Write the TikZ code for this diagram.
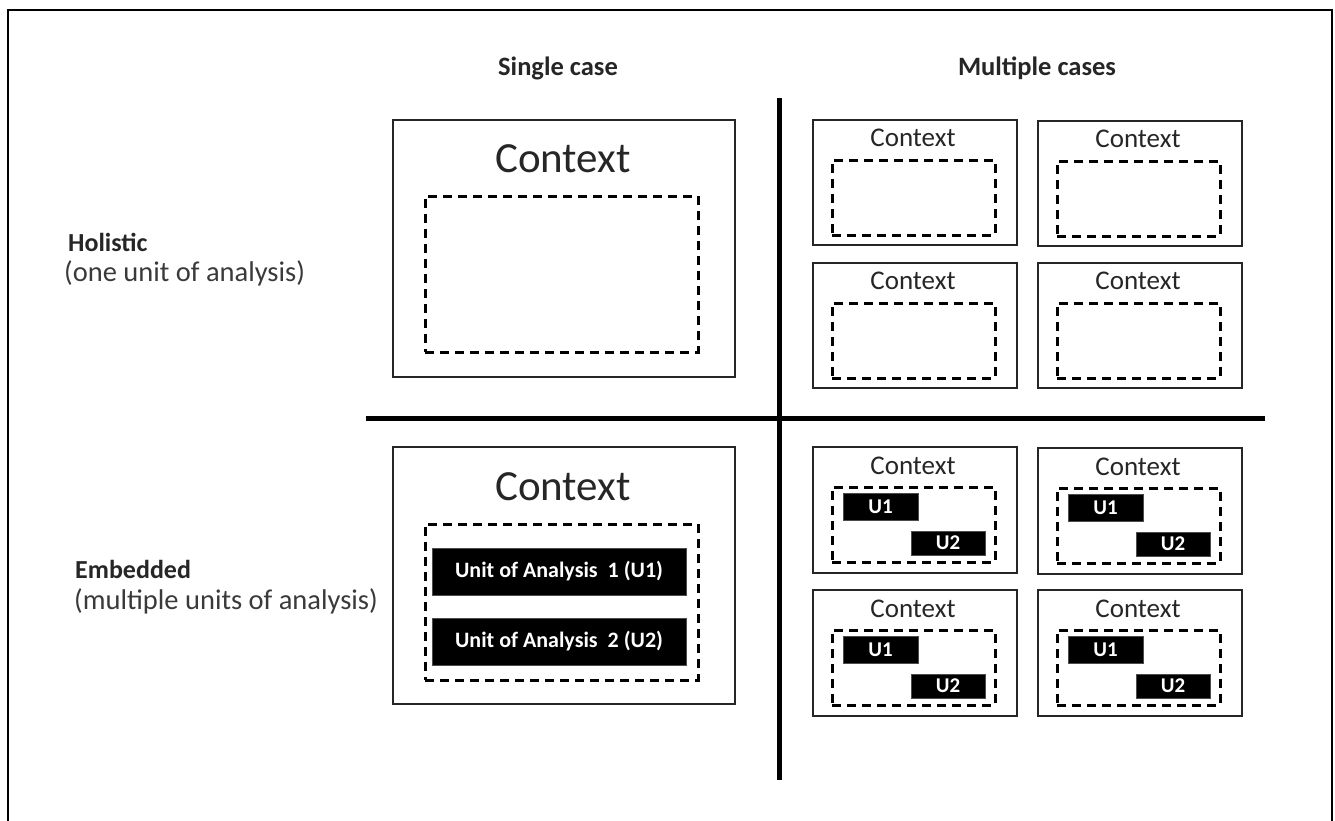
\documentclass[tikz,border=0pt]{standalone}
\usepackage{fontspec}
\setmainfont{Carlito}
\definecolor{txtdark}{HTML}{262626}
\definecolor{txtgray}{HTML}{3A3A3A}
\begin{document}
\begin{tikzpicture}[x=1pt,y=-1pt,
  box/.style={draw=black!85, line width=1.6pt, inner sep=0pt, outer sep=0pt, anchor=north west},
  dbox/.style={draw=black, line width=3pt, dash pattern=on 9pt off 6pt, inner sep=0pt, outer sep=0pt, anchor=north west},
  ubox/.style={fill=black, draw=black!70, line width=0.5pt, inner sep=0pt, outer sep=0pt, anchor=north west, text=white, font=\bfseries\fontsize{22}{26}\selectfont},
  usmall/.style={fill=black, draw=black!70, line width=0.5pt, inner sep=0pt, outer sep=0pt, anchor=north west, text=white, font=\bfseries\fontsize{21}{24}\selectfont},
  ctxl/.style={anchor=base, inner sep=0pt, text=txtdark, font=\fontsize{43}{48}\selectfont},
  ctxs/.style={anchor=base, inner sep=0pt, text=txtdark, font=\fontsize{27}{30}\selectfont},
  head/.style={anchor=base, inner sep=0pt, text=txtdark, font=\bfseries\fontsize{26.5}{30}\selectfont},
  rowhead/.style={anchor=base west, inner sep=0pt, text=txtdark, font=\bfseries\fontsize{26}{30}\selectfont},
  rowsub/.style={anchor=base west, inner sep=0pt, text=txtgray, font=\fontsize{28.5}{32}\selectfont},
  divider/.style={line width=5pt, black},
  smallhol/.pic={
    \node[box, minimum width=204pt, minimum height=125pt] (-outer) at (0,0) {};
    \node[dbox, minimum width=163pt, minimum height=75pt] (-unit) at (19,40) {};
    \node[ctxs] (-ctx) at (100,26) {Context};
  },
  smallemb/.pic={
    \node[box, minimum width=204pt, minimum height=126pt] (-outer) at (0,0) {};
    \node[dbox, minimum width=163pt, minimum height=75pt] (-unit) at (19,40) {};
    \node[ctxs] (-ctx) at (100,27) {Context};
    \node[usmall, minimum width=75pt, minimum height=27pt] (-u1) at (30,46) {U1};
    \node[usmall, minimum width=74pt, minimum height=24pt] (-u2) at (98,84) {U2};
  }
]
\useasboundingbox (0,0) rectangle (1335,820);
% outer frame (open at the bottom)
\coordinate (fbl) at (8,822);
\coordinate (ftl) at (8,10);
\coordinate (ftr) at (1332,10);
\coordinate (fbr) at (1332,822);
\draw[line width=2pt, black] (fbl) -- (ftl) -- (ftr) -- (fbr);

% headings
\node[head] (hsingle) at (558,75) {Single case};
\node[head] (hmulti) at (1037,75) {Multiple cases};
\node[rowhead] (hhol) at (68,251) {Holistic};
\node[rowsub] (hholsub) at (64,281) {(one unit of analysis)};
\node[rowhead] (hemb) at (75,578) {Embedded};
\node[rowsub] (hembsub) at (74,609) {(multiple units of analysis)};

% dividers
\coordinate (hl) at (366,418);
\coordinate (hr) at (1265,418);
\coordinate (vt) at (779,98);
\coordinate (vb) at (779,780);
\draw[divider] (hl) -- (hr);
\draw[divider] (vt) -- (vb);

% single case, holistic
\node[box, minimum width=342pt, minimum height=257pt] (sh) at (393,120) {};
\node[ctxl] (shctx) at (563,172) {Context};
\node[dbox, minimum width=273pt, minimum height=156pt] (shunit) at (425,196) {};

% single case, embedded
\node[box, minimum width=342pt, minimum height=257pt] (se) at (393,447) {};
\node[ctxl] (sectx) at (563,500) {Context};
\node[dbox, minimum width=273pt, minimum height=156pt] (seunit) at (425,524) {};
\node[ubox, minimum width=254pt, minimum height=47pt] (seu1) at (432,548) {Unit of Analysis\ \ 1 (U1)};
\node[ubox, minimum width=254pt, minimum height=47pt] (seu2) at (432,618) {Unit of Analysis\ \ 2 (U2)};

% multiple cases, holistic
\pic (mh1) at (813,120) {smallhol};
\pic (mh2) at (1038,121) {smallhol};
\pic (mh3) at (813,263) {smallhol};
\pic (mh4) at (1038,263) {smallhol};

% multiple cases, embedded
\pic (me1) at (813,447) {smallemb};
\pic (me2) at (1038,448) {smallemb};
\pic (me3) at (813,590) {smallemb};
\pic (me4) at (1038,590) {smallemb};
\end{tikzpicture}
\end{document}
